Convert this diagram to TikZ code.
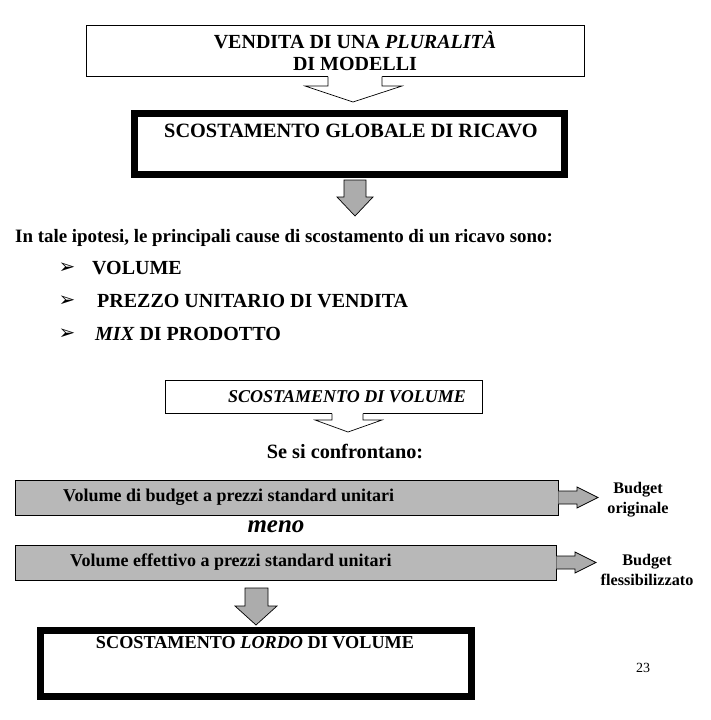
\documentclass[tikz,border=0pt]{standalone}
\usepackage{fontspec}
\setmainfont{Liberation Serif}
\newfontfamily\dejavu{DejaVu Sans}
\definecolor{boxgray}{RGB}{184,184,184}
\definecolor{arrgray}{RGB}{172,172,172}
\begin{document}
\begin{tikzpicture}[x=1pt,y=-1pt,
  thinbox/.style={draw, line width=0.9pt, fill=white, inner sep=0pt},
  thickbox/.style={draw, line width=7pt, inner sep=0pt},
  graybox/.style={draw, line width=0.9pt, fill=boxgray, inner sep=0pt},
  blockarrow/.style={draw, line width=0.7pt, fill=arrgray, line join=miter},
  hollowarrow/.style={draw, line width=0.7pt},
  bullet/.style={inner sep=0pt, font=\dejavu\fontsize{20}{22}\selectfont},
  itemtxt/.style={inner sep=0pt, font=\fontsize{20}{24}\selectfont\bfseries},
  btxt/.style={inner sep=0pt, font=\fontsize{18}{22}\selectfont\bfseries},
  stxt/.style={inner sep=0pt, align=center, font=\fontsize{16.2}{20}\selectfont\bfseries}
]
\useasboundingbox (0,0) rectangle (710,720);

% box 1
\node[thinbox, minimum width=498pt, minimum height=51pt] (b1) at (335,50.5) {};
\node[inner sep=0pt, align=center, font=\fontsize{20}{22}\selectfont\bfseries] (t1) at (355,51) {VENDITA DI UNA \textit{PLURALITÀ}\\DI MODELLI};
\fill[white] (328,76) -- (328,86) -- (305,86) -- (353,102) -- (402,86) -- (382,86) -- (382,76) -- cycle;
\draw[hollowarrow] (328,76.5) -- (328,86) -- (305,86) -- (353,102) -- (402,86) -- (382,86) -- (382,76.5);

% box 2
\node[thickbox, minimum width=430pt, minimum height=61pt] (b2) at (349.5,144) {};
\node[inner sep=0pt, font=\fontsize{20.3}{22}\selectfont\bfseries] (t2) at (351,131) {SCOSTAMENTO GLOBALE DI RICAVO};
\draw[blockarrow] (344,180) -- (366,180) -- (366,197) -- (373,197) -- (355,216) -- (337,197) -- (344,197) -- cycle;

% causes
\node[inner sep=0pt, anchor=west, font=\fontsize{18.9}{22}\selectfont\bfseries] (intro) at (15,238) {In tale ipotesi, le principali cause di scostamento di un ricavo sono:};
\node[bullet] (k1) at (67,268) {➢};
\node[bullet] (k2) at (67,301) {➢};
\node[bullet] (k3) at (67,334) {➢};
\node[itemtxt, anchor=west] (c1) at (92,268) {VOLUME};
\node[itemtxt, anchor=west] (c2) at (97,301) {PREZZO UNITARIO DI VENDITA};
\node[itemtxt, anchor=west] (c3) at (95,334) {\textit{MIX} DI PRODOTTO};

% box 3
\node[thinbox, minimum width=317pt, minimum height=33pt] (b3) at (323.5,396.5) {};
\node[inner sep=0pt, font=\fontsize{18}{20}\selectfont\bfseries\itshape] (t3) at (347,397) {SCOSTAMENTO DI VOLUME};
\fill[white] (332,413) -- (332,420) -- (315,420) -- (348,432) -- (382,420) -- (363,420) -- (363,413) -- cycle;
\draw[hollowarrow] (332,413.5) -- (332,420) -- (315,420) -- (348,432) -- (382,420) -- (363,420) -- (363,413.5);

\node[inner sep=0pt, font=\fontsize{20.3}{24}\selectfont\bfseries] (conf) at (345,451) {Se si confrontano:};

% gray box a
\node[graybox, minimum width=543pt, minimum height=35pt] (ga) at (286.5,497.5) {};
\node[btxt, anchor=west] (ta) at (63,497) {Volume di budget a prezzi standard unitari};
\draw[blockarrow] (ga.east |- 0,491) -- (577,491) -- (577,487) -- (598,497.5) -- (577,508) -- (577,504) -- (ga.east |- 0,504);
\node[stxt] (la) at (638,500) {Budget\\originale};

\node[inner sep=0pt, font=\fontsize{25}{27}\selectfont\bfseries\itshape] (meno) at (276,527) {meno};

% gray box b
\node[graybox, minimum width=541pt, minimum height=35pt] (gb) at (285.5,562.5) {};
\node[btxt, anchor=west] (tb) at (70,562) {Volume effettivo a prezzi standard unitari};
\draw[blockarrow] (gb.east |- 0,556) -- (575,556) -- (575,552) -- (596,562.5) -- (575,573) -- (575,569) -- (gb.east |- 0,569);
\node[stxt] (lb) at (647,570) {Budget\\flessibilizzato};

\draw[blockarrow] (245,588) -- (268,588) -- (268,606) -- (277,606) -- (256,625) -- (235,606) -- (245,606) -- cycle;

% box 4
\node[thickbox, minimum width=431pt, minimum height=66pt] (b4) at (256,663.5) {};
\node[inner sep=0pt, font=\fontsize{18.2}{20}\selectfont\bfseries] (t4) at (255,643) {SCOSTAMENTO \textit{LORDO} DI VOLUME};

\node[inner sep=0pt, font=\fontsize{14}{16}\selectfont] (pg) at (643,668) {23};
\end{tikzpicture}
\end{document}
